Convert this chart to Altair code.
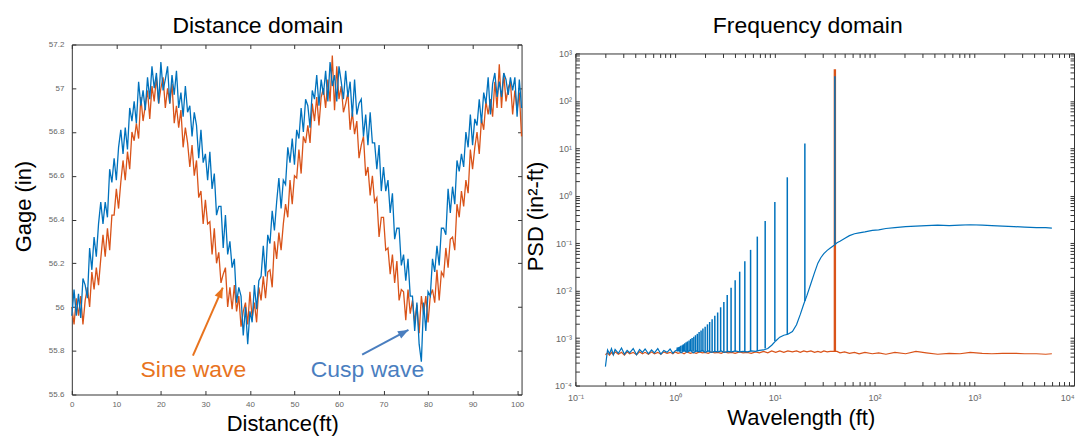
import altair as alt
import pandas as pd

FONT = "Liberation Sans"
ORANGE = "#D95319"
BLUE = "#0072BD"

# ---------------- Distance domain ----------------
sine_gage = [
    56.00, 55.92, 56.04, 55.96, 56.05, 55.92, 56.03, 56.09, 56.00, 56.16,
    56.08, 56.18, 56.10, 56.22, 56.33, 56.23, 56.36, 56.26, 56.42, 56.42,
    56.54, 56.45, 56.57, 56.67, 56.58, 56.71, 56.63, 56.80, 56.76, 56.84,
    56.77, 56.96, 56.85, 56.92, 56.99, 56.86, 57.01, 56.94, 57.05, 56.93,
    57.00, 57.05, 56.91, 57.00, 56.93, 57.02, 56.84, 56.92, 56.82, 56.90,
    56.73, 56.82, 56.75, 56.64, 56.74, 56.60, 56.67, 56.50, 56.53, 56.38,
    56.49, 56.38, 56.39, 56.24, 56.36, 56.20, 56.25, 56.11, 56.15, 56.18,
    56.00, 56.09, 55.99, 56.10, 55.98, 56.05, 55.91, 55.98, 56.02, 55.92,
    56.07, 55.95, 56.02, 55.93, 56.09, 56.03, 56.14, 56.04, 56.16, 56.17,
    56.09, 56.30, 56.22, 56.34, 56.26, 56.38, 56.47, 56.41, 56.58, 56.47,
    56.60, 56.59, 56.72, 56.61, 56.78, 56.75, 56.83, 56.75, 56.93, 56.85,
    56.96, 56.83, 56.96, 57.00, 56.91, 57.04, 56.94, 57.15, 56.90, 57.10,
    56.95, 57.01, 56.89, 56.93, 56.98, 56.81, 56.89, 56.79, 56.85, 56.68,
    56.74, 56.78, 56.60, 56.64, 56.51, 56.60, 56.48, 56.50, 56.32, 56.41,
    56.41, 56.26, 56.27, 56.15, 56.24, 56.11, 56.21, 56.03, 56.08, 56.07,
    55.94, 56.08, 55.97, 56.03, 55.93, 56.01, 55.88, 56.05, 55.97, 56.05,
    55.93, 56.05, 56.08, 56.02, 56.17, 56.03, 56.16, 56.14, 56.27, 56.18,
    56.31, 56.32, 56.26, 56.47, 56.41, 56.53, 56.46, 56.58, 56.52, 56.72,
    56.63, 56.73, 56.80, 56.70, 56.86, 56.81, 56.94, 56.88, 56.95, 56.87,
    57.03, 56.91, 57.11, 56.91, 57.07, 56.94, 57.00, 57.03, 56.88, 56.99,
    56.90, 56.98, 56.78,
]
cusp_gage = [
    55.96, 56.08, 55.96, 56.06, 55.95, 56.13, 56.10, 56.04, 56.27, 56.17,
    56.32, 56.23, 56.38, 56.48, 56.38, 56.48, 56.41, 56.63, 56.57, 56.68,
    56.58, 56.73, 56.81, 56.70, 56.82, 56.72, 56.91, 56.85, 56.94, 56.84,
    57.03, 56.92, 56.99, 56.90, 57.05, 56.95, 57.10, 57.00, 57.07, 56.93,
    57.12, 56.99, 57.04, 57.10, 56.93, 57.06, 56.97, 57.08, 56.91, 56.98,
    56.87, 57.01, 56.89, 56.92, 56.78, 56.89, 56.83, 56.68, 56.81, 56.66,
    56.70, 56.58, 56.71, 56.54, 56.61, 56.42, 56.46, 56.46, 56.27, 56.42,
    56.24, 56.30, 56.18, 56.22, 56.02, 56.09, 56.05, 55.87, 56.00, 55.83,
    55.98, 55.93, 56.10, 55.99, 56.12, 56.14, 56.28, 56.14, 56.33, 56.29,
    56.44, 56.35, 56.48, 56.59, 56.45, 56.58, 56.56, 56.73, 56.66, 56.77,
    56.65, 56.81, 56.77, 56.91, 56.80, 56.95, 56.92, 56.82, 56.99, 56.95,
    57.06, 56.92, 57.04, 56.97, 57.08, 56.94, 57.12, 57.01, 57.06, 56.94,
    57.10, 57.03, 56.95, 57.08, 56.96, 57.03, 56.87, 57.04, 56.88, 56.93,
    56.95, 56.78, 56.88, 56.74, 56.89, 56.75, 56.75, 56.63, 56.74, 56.53,
    56.64, 56.53, 56.58, 56.43, 56.52, 56.31, 56.36, 56.36, 56.19, 56.24,
    56.12, 56.22, 56.05, 56.05, 55.89, 56.02, 55.83, 55.75, 56.02, 55.89,
    56.07, 56.05, 56.22, 56.16, 56.28, 56.19, 56.36, 56.36, 56.33, 56.54,
    56.43, 56.55, 56.47, 56.67, 56.62, 56.70, 56.64, 56.80, 56.73, 56.88,
    56.74, 56.86, 56.83, 56.95, 56.84, 56.98, 56.93, 57.05, 56.88, 57.02,
    57.07, 56.96, 57.03, 56.96, 57.07, 57.04, 56.97, 57.05, 56.99, 57.05,
    56.87, 57.04, 56.91,
]
distance_ft = [i * 0.5 for i in range(len(sine_gage))]

gage_ticks = [55.6, 55.8, 56.0, 56.2, 56.4, 56.6, 56.8, 57.0, 57.2]
distance_ticks = [0, 10, 20, 30, 40, 50, 60, 70, 80, 90, 100]

note_text = ["Sine wave", "Cusp wave"]
note_x = [27.3, 66.4]
note_y = [55.714, 55.714]
note_color = ["#E8731E", "#4A7EBF"]
arrow_from_x = [27.2, 65.2]
arrow_from_y = [55.778, 55.782]
arrow_to_x = [33.9, 75.6]
arrow_to_y = [56.089, 55.895]
arrow_angle = [24, 62]

# ---------------- Frequency domain (log10 of PSD) ----------------
wavelength_ft = [
    0.2, 0.21, 0.22, 0.23, 0.24, 0.25, 0.27, 0.29, 0.31, 0.33, 0.35, 0.38, 0.41, 0.44, 0.47,
    0.5, 0.54, 0.58, 0.62, 0.67, 0.72, 0.77, 0.83, 0.89, 0.95, 1.0, 1.07, 1.15, 1.23, 1.32,
    1.42, 1.52, 1.63, 1.75, 1.88, 2.0, 2.15, 2.3, 2.5, 2.7, 2.9, 3.1, 3.4, 3.7, 4.0, 4.4,
    4.8, 5.3, 5.8, 6.4, 7.0, 7.7, 8.5, 9.3, 10.2, 11.2, 12.3, 13.5, 15, 16.5, 18, 19.5, 21,
    23, 25, 27, 29, 31, 33.5, 36, 39, 42, 45, 50, 56, 63, 70, 80, 95, 110, 130, 160, 205,
    260, 330, 430, 560, 720, 910, 1200, 1500, 1920, 2500, 3200, 4200, 5200, 6000,
]
cusp_log_psd = [
    -3.60, -3.25, -3.33, -3.22, -3.35, -3.24, -3.32, -3.21, -3.34, -3.26,
    -3.31, -3.22, -3.35, -3.24, -3.30, -3.23, -3.33, -3.25, -3.31, -3.22,
    -3.34, -3.26, -3.30, -3.23, -3.32, -3.27, -3.24, -3.31, -3.26, -3.30,
    -3.25, -3.31, -3.27, -3.29, -3.26, -3.30, -3.27, -3.30, -3.28, -3.29,
    -3.27, -3.30, -3.28, -3.29, -3.27, -3.29, -3.28, -3.29, -3.27, -3.28,
    -3.26, -3.25, -3.22, -3.15, -3.06, -2.98, -2.94, -2.92, -2.86, -2.72,
    -2.50, -2.28, -2.10, -1.85, -1.62, -1.42, -1.30, -1.22, -1.15, -1.10,
    -1.05, -0.99, -0.96, -0.90, -0.84, -0.80, -0.78, -0.76, -0.73, -0.72,
    -0.69, -0.67, -0.65, -0.64, -0.63, -0.62, -0.63, -0.62, -0.61, -0.62,
    -0.63, -0.64, -0.65, -0.66, -0.67, -0.67, -0.68,
]
sine_log_psd = [
    -3.35, -3.31, -3.36, -3.30, -3.35, -3.29, -3.34, -3.30, -3.36, -3.29,
    -3.33, -3.30, -3.35, -3.29, -3.33, -3.30, -3.34, -3.29, -3.33, -3.30,
    -3.34, -3.29, -3.32, -3.30, -3.33, -3.29, -3.32, -3.30, -3.33, -3.29,
    -3.32, -3.30, -3.32, -3.29, -3.31, -3.30, -3.32, -3.29, -3.31, -3.30,
    -3.32, -3.29, -3.31, -3.30, -3.32, -3.29, -3.31, -3.30, -3.32, -3.29,
    -3.31, -3.28, -3.31, -3.27, -3.30, -3.27, -3.30, -3.27, -3.29, -3.27,
    -3.30, -3.27, -3.29, -3.27, -3.30, -3.28, -3.30, -3.27, -3.29, -3.28,
    -3.28, -3.28, -3.31, -3.29, -3.32, -3.30, -3.33, -3.30, -3.33, -3.31,
    -3.34, -3.30, -3.33, -3.28, -3.31, -3.34, -3.32, -3.33, -3.30, -3.32,
    -3.33, -3.32, -3.32, -3.33, -3.33, -3.34, -3.33,
]
# harmonic peaks of the cusp wave
harmonic_wl = [40, 20, 13.33, 10, 8, 6.67, 5.71, 5, 4.44, 4, 3.64, 3.33, 3.08, 2.86, 2.67,
               2.5, 2.35, 2.22, 2.11, 2.0, 1.90, 1.82, 1.74, 1.67, 1.6, 1.54, 1.48, 1.43,
               1.38, 1.33, 1.29, 1.25, 1.21, 1.18, 1.14, 1.11, 1.08, 1.05]
harmonic_peak_log = [2.52, 1.10, 0.39, -0.13, -0.53, -0.86, -1.14, -1.38, -1.60, -1.78,
                     -1.94, -2.09, -2.24, -2.35, -2.46, -2.53, -2.60, -2.66, -2.71, -2.76,
                     -2.80, -2.84, -2.87, -2.91, -2.94, -2.97, -3.00, -3.02, -3.05, -3.07,
                     -3.09, -3.11, -3.13, -3.15, -3.16, -3.18, -3.19, -3.20]
harmonic_foot_log = [-1.03, -2.22, -2.92, -3.06, -3.22, -3.27, -3.28, -3.28, -3.28, -3.28,
                     -3.28, -3.28, -3.28, -3.28, -3.28, -3.28, -3.28, -3.28, -3.28, -3.28,
                     -3.28, -3.28, -3.28, -3.28, -3.28, -3.28, -3.28, -3.28, -3.28, -3.28,
                     -3.28, -3.28, -3.28, -3.28, -3.28, -3.28, -3.28, -3.28]
sine_peak_wl = [40]
sine_peak_log = [2.67]
sine_foot_log = [-3.28]

wl_ticks = [m * 10.0 ** k for k in range(-1, 4) for m in range(1, 10)] + [10000.0]
psd_ticks = [m * 10.0 ** k for k in range(-4, 3) for m in range(1, 10)] + [1000.0]
wl_decades = [0.1, 1, 10, 100, 1000, 10000]
wl_decade_labels = ["10\u207b\u00b9", "10\u2070", "10\u00b9", "10\u00b2", "10\u00b3", "10\u2074"]
psd_decades = [0.0001, 0.001, 0.01, 0.1, 1, 10, 100, 1000]
psd_decade_labels = ["10\u207b\u2074", "10\u207b\u00b3", "10\u207b\u00b2", "10\u207b\u00b9",
                     "10\u2070", "10\u00b9", "10\u00b2", "10\u00b3"]


def label_expr(vals, labs):
    s = "''"
    for v, l in reversed(list(zip(vals, labs))):
        s = f"abs(datum.value - {v}) < {v * 1e-6} ? '{l}' : ({s})"
    return s


# ---------------- tables ----------------
df_sine = pd.DataFrame({"d": distance_ft, "g": sine_gage})
df_cusp = pd.DataFrame({"d": distance_ft, "g": cusp_gage})
df_notes = pd.DataFrame({"x": note_x, "y": note_y, "t": note_text, "c": note_color})
df_arrows = pd.DataFrame({"x0": arrow_from_x, "y0": arrow_from_y, "x1": arrow_to_x,
                          "y1": arrow_to_y, "a": arrow_angle, "c": note_color})

df_sine_psd = pd.DataFrame({"w": wavelength_ft, "p": [10 ** v for v in sine_log_psd]})
df_cusp_psd = pd.DataFrame({"w": wavelength_ft, "p": [10 ** v for v in cusp_log_psd]})
df_sine_peak = pd.DataFrame({"w": sine_peak_wl, "lo": [10 ** v for v in sine_foot_log],
                             "hi": [10 ** v for v in sine_peak_log]})
df_cusp_peaks = pd.DataFrame({"w": harmonic_wl, "lo": [10 ** v for v in harmonic_foot_log],
                              "hi": [10 ** v for v in harmonic_peak_log]})

TICK = dict(offset=-4, tickSize=4, domain=False, grid=False, tickColor="#333",
            labelFlush=False, labelOverlap=False)
LAB = dict(labelFont=FONT, labelColor="#666", labelFontSize=8)
TIT = dict(titleFont=FONT, titleFontSize=22, titleFontWeight="normal", titleColor="black",
           titleBaseline="alphabetic")

# ---------------- left panel ----------------
xs = alt.Scale(domain=[0, 101], nice=False, zero=False)
ys = alt.Scale(domain=[55.6, 57.2], nice=False, zero=False)

sine_line = alt.Chart(df_sine).mark_line(color=ORANGE, strokeWidth=1.3).encode(
    x=alt.X("d:Q", scale=xs, axis=alt.Axis(values=distance_ticks, labelPadding=6,
            title="Distance(ft)", titleX=211, titleY=40, **TICK, **LAB, **TIT)),
    y=alt.Y("g:Q", scale=ys, axis=alt.Axis(values=gage_ticks, format=".1~f", labelPadding=8,
            title="Gage (in)", titleX=-45, titleY=162, **TICK, **LAB, **TIT)),
)
cusp_line = alt.Chart(df_cusp).mark_line(color=BLUE, strokeWidth=1.3).encode(
    x=alt.X("d:Q", scale=xs, axis=alt.Axis(orient="top", values=distance_ticks, labels=False,
                                           title=None, **TICK)),
    y=alt.Y("g:Q", scale=ys, axis=alt.Axis(orient="right", values=gage_ticks, labels=False,
                                           title=None, **TICK)),
)
notes = alt.Chart(df_notes).mark_text(font=FONT, fontSize=23, align="center",
                                      baseline="middle").encode(
    x=alt.X("x:Q", scale=xs, axis=None), y=alt.Y("y:Q", scale=ys, axis=None),
    text="t:N", color=alt.Color("c:N", scale=None))
arrow_lines = alt.Chart(df_arrows).mark_rule(strokeWidth=2).encode(
    x=alt.X("x0:Q", scale=xs, axis=None), y=alt.Y("y0:Q", scale=ys, axis=None),
    x2="x1:Q", y2="y1:Q", color=alt.Color("c:N", scale=None))
arrow_heads = alt.Chart(df_arrows).mark_point(shape="M0,0L0.8,2L-0.8,2Z", filled=True,
                                              size=110, opacity=1).encode(
    x=alt.X("x1:Q", scale=xs, axis=None), y=alt.Y("y1:Q", scale=ys, axis=None),
    angle=alt.Angle("a:Q", scale=None), color=alt.Color("c:N", scale=None))

left = alt.layer(sine_line, cusp_line, notes, arrow_lines, arrow_heads).resolve_axis(
    x="independent", y="independent").properties(
    width=451, height=351,
    title=alt.TitleParams("Distance domain", font=FONT, fontSize=23, fontWeight="normal",
                          color="black", baseline="alphabetic", offset=-15, dx=-39,
                          frame="group"))

# ---------------- right panel ----------------
xr = alt.Scale(type="log", domain=[0.1, 10000], nice=False)
yr = alt.Scale(type="log", domain=[1e-4, 1e3], nice=False)

sine_psd = alt.Chart(df_sine_psd).mark_line(color=ORANGE, strokeWidth=1.2).encode(
    x=alt.X("w:Q", scale=xr, axis=alt.Axis(values=wl_ticks,
            labelExpr=label_expr(wl_decades, wl_decade_labels), labelPadding=8,
            labelAlign={"condition": {"test": "datum.value > 9999", "value": "right"},
                        "value": "center"},
            title="Wavelength (ft)", titleX=226, titleY=43,
            **TICK, **dict(LAB, labelFontSize=9), **TIT)),
    y=alt.Y("p:Q", scale=yr, axis=alt.Axis(values=psd_ticks,
            labelExpr=label_expr(psd_decades, psd_decade_labels), labelPadding=4,
            title="PSD (in\u00b2-ft)", titleX=-37, titleY=163,
            **TICK, **dict(LAB, labelFontSize=9), **TIT)),
)
sine_spike = alt.Chart(df_sine_peak).mark_rule(color=ORANGE, strokeWidth=2.4).encode(
    x=alt.X("w:Q", scale=xr, axis=None), y=alt.Y("lo:Q", scale=yr, axis=None), y2="hi:Q")
cusp_psd = alt.Chart(df_cusp_psd).mark_line(color=BLUE, strokeWidth=1.2).encode(
    x=alt.X("w:Q", scale=xr, axis=alt.Axis(orient="top", values=wl_ticks, labels=False,
                                           title=None, **TICK)),
    y=alt.Y("p:Q", scale=yr, axis=alt.Axis(orient="right", values=psd_ticks, labels=False,
                                           title=None, **TICK)),
)
cusp_spikes = alt.Chart(df_cusp_peaks).mark_rule(color=BLUE, strokeWidth=1.5).encode(
    x=alt.X("w:Q", scale=xr, axis=None), y=alt.Y("lo:Q", scale=yr, axis=None), y2="hi:Q")

right = alt.layer(sine_psd, sine_spike, cusp_psd, cusp_spikes).resolve_axis(
    x="independent", y="independent").properties(
    width=500, height=333,
    title=alt.TitleParams("Frequency domain", font=FONT, fontSize=23, fontWeight="normal",
                          color="black", baseline="alphabetic", offset=-6, dx=-17,
                          frame="group"))

chart = alt.hconcat(left, right, spacing=54, bounds="flush", center=True).properties(
    padding={"left": 4, "right": 0, "top": 5, "bottom": 0}).configure(
    font=FONT).configure_view(stroke="#333", strokeWidth=1)

chart.save("out.html", embed_options={"renderer": "svg", "actions": False})
